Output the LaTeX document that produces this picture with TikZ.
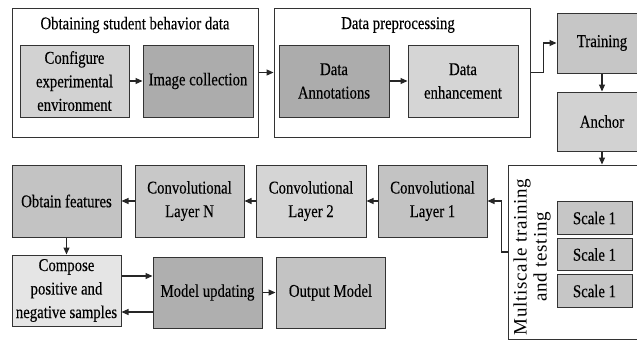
\documentclass[tikz,border=0pt]{standalone}
\usepackage{fontspec}
\setmainfont[FakeStretch=0.82,FakeBold=0.25]{Liberation Serif}
\newfontfamily\rotfont[LetterSpace=4]{Liberation Serif}
\usetikzlibrary{arrows.meta}
\tikzset{
  box/.style={draw=black!80, line width=1pt, align=center, inner sep=1pt,
    minimum width=109pt, minimum height=72pt, font=\fontsize{18}{23.5}\selectfont},
  grp/.style={draw=black!80, line width=1pt, fill=white},
  sbox/.style={draw=black!80, line width=1pt, minimum width=75pt, minimum height=32.5pt,
    fill=gray!45, font=\fontsize{18}{22}\selectfont, inner sep=1pt},
  ttl/.style={font=\fontsize{18}{22}\selectfont, inner sep=0pt},
  arr/.style={-{Triangle[length=7pt,width=6pt]}, line width=1.1pt, draw=black!85},
}
\begin{document}
\begin{tikzpicture}[x=1pt,y=-1pt]
\useasboundingbox (0,0) rectangle (637,341);
% groups
\node[grp, minimum width=246pt, minimum height=129pt] (g1) at (135,72.5) {};
\node[grp, minimum width=256pt, minimum height=129pt] (g2) at (402,72.5) {};
\node[ttl] (t1) at (135,25) {Obtaining student behavior data};
\node[ttl] (t2) at (398,25) {Data preprocessing};
% top row
\node[box, fill=gray!35] (conf) at (74.5,81) {Configure\\experimental\\environment};
\node[box, fill=gray!65, minimum width=110pt] (img) at (198,81) {Image collection};
\node[box, fill=gray!65, minimum width=110pt] (ann) at (334,81) {Data\\Annotations};
\node[box, fill=gray!33, minimum width=110pt] (enh) at (463,81) {Data\\enhancement};
\node[box, fill=gray!45, minimum width=90pt, minimum height=60pt] (train) at (602,43) {Training};
\node[box, fill=gray!35, minimum width=90pt, minimum height=59pt] (anch) at (602,121.5) {Anchor};
% multiscale
\node[grp, minimum width=152pt, minimum height=174pt] (multi) at (584,252) {};
\node[rotate=90, align=center, inner sep=0pt, font=\rotfont\fontsize{19}{20}\selectfont] (mt) at (532,257) {Multiscale training\\and testing};
\node[sbox] (s1) at (594.5,218) {Scale 1};
\node[sbox] (s2) at (594.5,254.5) {Scale 1};
\node[sbox] (s3) at (594.5,291) {Scale 1};
% middle row
\node[box, fill=gray!47] (cl1) at (432.5,201) {Convolutional\\Layer 1};
\node[box, fill=gray!33, minimum width=110pt] (cl2) at (311,201) {Convolutional\\Layer 2};
\node[box, fill=gray!43] (cln) at (189.5,201) {Convolutional\\Layer N};
\node[box, fill=gray!47] (obt) at (66.5,201) {Obtain features};
% bottom row
\node[box, fill=gray!20, minimum height=71pt] (comp) at (66.5,290.5) {Compose\\positive and\\negative samples};
\node[box, fill=gray!63, minimum height=71pt] (upd) at (207.5,292.5) {Model updating};
\node[box, fill=gray!47, minimum height=71pt] (outm) at (330.5,292.5) {Output Model};
% connectors
\draw[arr] (conf) -- (img);
\draw[arr] (g1) -- (g2);
\draw[arr] (ann) -- (enh);
\draw[arr] (g2.east) -- ++(13,0) |- (train.west);
\draw[arr] (train) -- (anch);
\draw[arr] (anch) -- (multi.north -| anch.south);
\draw[arr] (multi.west) -- ++(-6,0) |- (cl1.east);
\draw[arr] (cl1) -- (cl2);
\draw[arr] (cl2) -- (cln);
\draw[arr] (cln) -- (obt);
\draw[arr] (obt) -- (comp);
\coordinate (ca) at (comp.east |- 0,276);
\coordinate (cb) at (comp.east |- 0,312);
\draw[arr] (ca) -- (upd.west |- ca);
\draw[arr] (upd.west |- cb) -- (cb);
\draw[arr] (upd) -- (outm);
\end{tikzpicture}
\end{document}
